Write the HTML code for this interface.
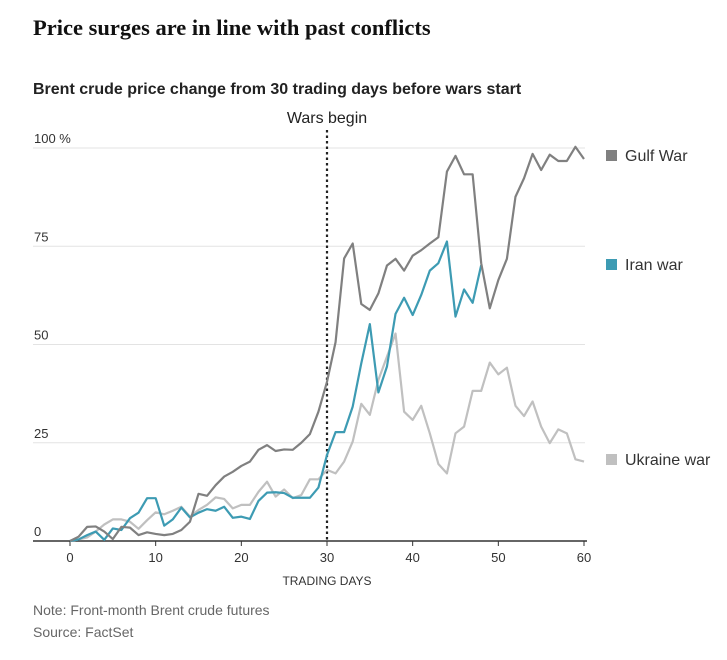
<!DOCTYPE html>
<html><head><meta charset="utf-8"><style>
body{margin:0;background:#fff;width:727px;height:655px;overflow:hidden;font-family:"Liberation Sans",sans-serif}
</style></head><body>
<svg width="727" height="655" xmlns="http://www.w3.org/2000/svg">
<text x="33" y="35" font-family="Liberation Serif,serif" font-weight="bold" font-size="22.5" fill="#111">Price surges are in line with past conflicts</text>
<text x="33" y="94" font-weight="bold" font-size="16" fill="#222">Brent crude price change from 30 trading days before wars start</text>
<g id="grid"></g>
<g id="xaxis"></g>
<g id="lines"></g>
<g id="legend"></g>
<text x="327" y="585" text-anchor="middle" font-size="12" fill="#333">TRADING DAYS</text>
<text x="33" y="615" font-size="14" fill="#666">Note: Front-month Brent crude futures</text>
<text x="33" y="637" font-size="14" fill="#666">Source: FactSet</text>
</svg>
<script>
const yTicks=[0,25,50,75,100];
const xTicks=[0,10,20,30,40,50,60];
const gulf=[0,1.1,3.6,3.7,2.4,0.5,3.6,3.4,1.5,2.2,1.8,1.5,1.8,2.8,4.9,12.0,11.5,14.2,16.4,17.6,19.1,20.2,23.2,24.4,22.9,23.3,23.2,25.0,27.2,32.9,40.5,50.6,71.9,75.7,60.3,58.8,63.0,70.1,71.8,68.8,72.6,74.0,75.7,77.3,94.0,98.0,93.3,93.3,70.7,59.2,66.4,71.8,87.6,92.3,98.5,94.4,98.3,96.7,96.7,100.3,97.2];
const iran=[0,0.4,1.5,2.4,0.3,3.2,2.8,5.8,7.2,10.9,10.9,3.9,5.5,8.5,6.0,7.2,8.1,7.7,8.7,5.9,6.2,5.6,10.2,12.3,12.4,12.2,11.0,11.0,11.0,13.6,21.9,27.7,27.7,34.2,45.2,55.2,37.8,44.4,57.8,61.9,57.5,62.6,68.8,70.7,76.2,57.1,64.0,60.6,70.2];
const ukraine=[0,0.4,0.9,2.4,4.2,5.5,5.5,4.9,3.1,5.3,7.3,6.8,7.7,8.7,6.2,7.9,9.2,11.1,10.7,8.3,9.2,9.2,12.5,15.1,11.3,13.1,10.9,11.7,15.7,15.7,18.1,17.2,20.2,25.3,34.9,32.1,41.0,46.9,52.8,32.9,30.8,34.4,27.4,19.6,17.2,27.4,29.1,38.2,38.2,45.4,42.4,44.1,34.4,31.8,35.5,29.1,24.9,28.4,27.4,20.8,20.2];
const seriesNames=["Gulf War","Iran war","Ukraine war"];
const seriesColors=["#808080","#3d9bb3","#c0c0c0"];
const legendY=[156,265,460];
const NS="http://www.w3.org/2000/svg";
const X=d=>70+d*(514/60);
const Y=v=>541-v*3.93;
function mk(t,a,p){const e=document.createElementNS(NS,t);for(const k in a)e.setAttribute(k,a[k]);p.appendChild(e);return e;}
const grid=document.getElementById('grid');
yTicks.forEach(v=>{
 if(v>0){const l=mk('line',{x1:33,x2:585,y1:Y(v),y2:Y(v),stroke:'#e3e3e3','stroke-width':1},grid);
 
 }
 const t=mk('text',{x:34,y:Y(v)-5,'font-size':13,fill:'#333'},grid);
 t.textContent=v===100?'100 %':String(v);
 
 
});
const xa=document.getElementById('xaxis');
const base=mk('line',{x1:33,x2:587,y1:541,y2:541,stroke:'#333','stroke-width':1.5},xa);


xTicks.forEach(d=>{
 const tk=mk('line',{x1:X(d),x2:X(d),y1:541,y2:546,stroke:'#333'},xa);
 
 
 const t=mk('text',{x:X(d),y:562,'text-anchor':'middle','font-size':13,fill:'#333'},xa);
 t.textContent=d;
 
 
});
const vl=mk('line',{x1:X(30),x2:X(30),y1:130,y2:541,stroke:'#222','stroke-width':2.2,'stroke-dasharray':'2.5 3'},xa);


const wl=mk('text',{x:X(30),y:123,'text-anchor':'middle','font-size':16,fill:'#222'},xa);
wl.textContent='Wars begin';


const lines=document.getElementById('lines');
[ukraine,iran,gulf].forEach((s,k)=>{
 const i=[2,1,0][k];
 const p=mk('polyline',{points:s.map((v,d)=>X(d)+','+Y(v)).join(' '),fill:'none',stroke:seriesColors[i],'stroke-width':2.2,'stroke-linejoin':'round'},lines);
 
 
});
const lg=document.getElementById('legend');
seriesNames.forEach((n,i)=>{
 const r=mk('rect',{x:606,y:legendY[i]-6,width:11,height:11,fill:seriesColors[i]},lg);
 
 
 const t=mk('text',{x:625,y:legendY[i]+5,'font-size':16,fill:'#333'},lg);
 t.textContent=n;
 
 
});
</script>
</body></html>
